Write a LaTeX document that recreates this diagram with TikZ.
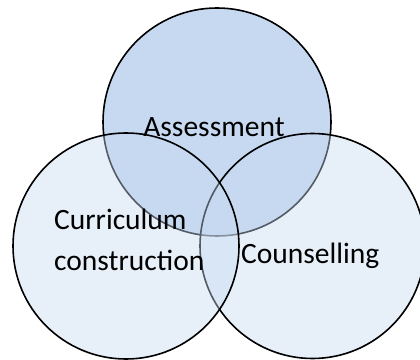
\documentclass[tikz,border=0pt]{standalone}
\usepackage{fontspec}
\setmainfont{Carlito}
\begin{document}
\begin{tikzpicture}[x=1pt,y=1pt,
  topcirc/.style={circle,draw=black,line width=1.6pt,fill={rgb,255:red,198;green,217;blue,241},inner sep=0pt,minimum size=#1},
  lowcirc/.style={circle,draw=black,line width=1.6pt,fill={rgb,255:red,200;green,218;blue,242},fill opacity=0.42,draw opacity=1,inner sep=0pt,minimum size=#1},
  lbl/.style={font=\fontsize{29.5}{41}\selectfont,inner sep=0pt,text=black}]
\useasboundingbox (0,0) rectangle (420,359);
\clip (0,0) rectangle (420,359);
\fill[white] (0,0) rectangle (420,359);
\node[topcirc=228pt] (top) at (217,237) {};
\node[lowcirc=225pt] (right) at (312.5,113) {};
\node[lowcirc=226pt] (left) at (126,113) {};
\node[lbl,anchor=base] (assess) at (214,222.3) {Assessment};
\node[lbl,anchor=base west] (curr) at (54,130) {Curriculum};
\node[lbl,anchor=base west] (constr) at (54,89) {construction};
\node[lbl,anchor=base west] (couns) at (241,96) {Counselling};
\end{tikzpicture}
\end{document}
